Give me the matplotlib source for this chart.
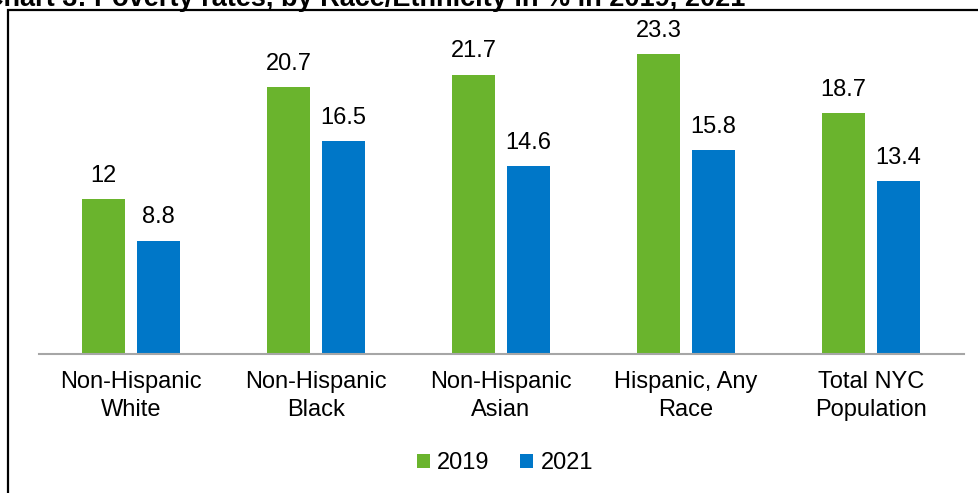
import numpy as np
import matplotlib.pyplot as plt
from matplotlib.patches import Rectangle

plt.rcParams['font.family'] = ['Liberation Sans', 'DejaVu Sans']

groups = ['Non-Hispanic\nWhite', 'Non-Hispanic\nBlack', 'Non-Hispanic\nAsian',
          'Hispanic, Any\nRace', 'Total NYC\nPopulation']
rate_2019 = [12, 20.7, 21.7, 23.3, 18.7]
rate_2021 = [8.8, 16.5, 14.6, 15.8, 13.4]
years = ['2019', '2021']

green = '#6ab42d'
blue = '#0077c8'

W, H = 979, 493
fig = plt.figure(figsize=(W / 100, H / 100), dpi=100)

# frame around the chart, open on the right and bottom edge
fig.add_artist(Rectangle((8.5 / W, -0.1), 1.2, 1 - 10.5 / H + 0.1,
                         transform=fig.transFigure, fill=False,
                         edgecolor='black', lw=1.6))
fig.text(745 / W, 1 + 1 / H,
         'Chart 3: Poverty rates, by Race/Ethnicity in % in 2019, 2021',
         ha='right', va='center', fontsize=19.5, fontweight='bold')

ax = fig.add_axes([38.5 / W, 1 - 354 / H, 925 / W, (354 - 32) / H])
x = np.arange(len(groups))
w = 0.232
off = 0.149
b1 = ax.bar(x - off, rate_2019, w, color=green, label=years[0])
b2 = ax.bar(x + off, rate_2021, w, color=blue, label=years[1])

for bars, vals in ((b1, rate_2019), (b2, rate_2021)):
    for r, v in zip(bars, vals):
        ax.text(r.get_x() + r.get_width() / 2, v + 0.95, f'{v:g}',
                ha='center', va='bottom', fontsize=17, clip_on=False)

ax.set_xlim(-0.5, 4.5)
ax.set_ylim(0, 25)
ax.set_xticks(x)
ax.set_xticklabels(groups, fontsize=17, linespacing=1.4)
ax.tick_params(axis='x', length=0, pad=12)
ax.set_yticks([])
for s in ('top', 'right', 'left'):
    ax.spines[s].set_visible(False)
ax.spines['bottom'].set_color('#a6a6a6')
ax.spines['bottom'].set_linewidth(1.5)

fig.legend(loc='center', bbox_to_anchor=(505 / W, 1 - 463 / H), ncol=2,
           frameon=False, fontsize=17, handlelength=0.55, handleheight=0.55,
           handletextpad=0.3, columnspacing=1.3)

fig.savefig('out.png', dpi=100)
